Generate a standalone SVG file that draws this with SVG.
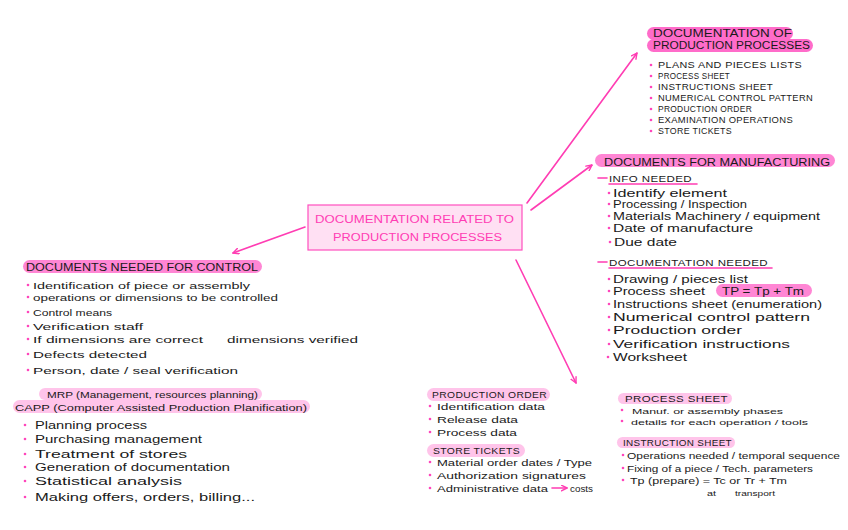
<svg xmlns="http://www.w3.org/2000/svg" width="848" height="530" viewBox="0 0 848 530">
<defs>
<style>
.bg{fill:#ffffff}
.cap{font-family:"Liberation Sans",Arial,sans-serif;font-size:8.5px;fill:#1a1a1a;letter-spacing:0.3px}
.hd{font-family:"Liberation Sans",Arial,sans-serif;font-size:10px;fill:#1a1a1a}
.hw{font-family:"Liberation Sans",Arial,sans-serif;font-size:11px;fill:#1a1a1a}
.mf{font-family:"Liberation Sans",Arial,sans-serif;font-size:10px;fill:#1a1a1a}
.sm{font-family:"Liberation Sans",Arial,sans-serif;font-size:9.5px;fill:#1a1a1a}
.xs{font-family:"Liberation Sans",Arial,sans-serif;font-size:8px;fill:#1a1a1a}
.hl1{fill:#ff6cca}
.hl2{fill:#ff86d4}
.hl3{fill:#ffc4ea}
.dot{fill:#ff45bb}
.pk{stroke:#ff3db3;stroke-width:1.6;fill:none;stroke-linecap:round}
.ctr{font-family:"Liberation Sans",Arial,sans-serif;font-size:10px;fill:#ff3db3}
</style>
<marker id="ah" viewBox="0 0 10 10" refX="9" refY="5" markerWidth="7" markerHeight="7" orient="auto" markerUnits="userSpaceOnUse">
<path d="M1,1 L9,5 L1,9" fill="none" stroke="#ff3db3" stroke-width="2" stroke-linecap="round" stroke-linejoin="round"/>
</marker>
</defs>
<rect class="bg" x="0" y="0" width="848" height="530"/>

<g id="connectors">
<line class="pk" x1="527" y1="203" x2="637" y2="53" marker-end="url(#ah)"/>
<line class="pk" x1="531" y1="210" x2="592" y2="165" marker-end="url(#ah)"/>
<line class="pk" x1="305" y1="227" x2="233" y2="253" marker-end="url(#ah)"/>
<line class="pk" x1="516" y1="260" x2="576" y2="383" marker-end="url(#ah)"/>
</g>

<g id="center">
<rect x="308" y="205" width="214" height="45" fill="#ffe0f3" stroke="#ff4fbf" stroke-width="1.2"/>
<text class="ctr" x="315" y="223" textLength="199" lengthAdjust="spacingAndGlyphs">DOCUMENTATION RELATED TO</text>
<text class="ctr" x="333" y="241" textLength="169" lengthAdjust="spacingAndGlyphs">PRODUCTION PROCESSES</text>
</g>

<g id="doc-production-processes">
<rect class="hl1" x="647" y="27" width="146" height="13" rx="6.5"/>
<rect class="hl1" x="647" y="39" width="166" height="13" rx="6.5"/>
<text class="hd" x="653" y="37" textLength="139" lengthAdjust="spacingAndGlyphs">DOCUMENTATION OF</text>
<text class="hd" x="653" y="49" textLength="157" lengthAdjust="spacingAndGlyphs">PRODUCTION PROCESSES</text>
<circle class="dot" cx="651" cy="65" r="1.3"/>
<circle class="dot" cx="651" cy="76" r="1.3"/>
<circle class="dot" cx="651" cy="87" r="1.3"/>
<circle class="dot" cx="651" cy="98" r="1.3"/>
<circle class="dot" cx="651" cy="109" r="1.3"/>
<circle class="dot" cx="651" cy="120" r="1.3"/>
<circle class="dot" cx="651" cy="131" r="1.3"/>
<text class="cap" x="658" y="68" textLength="144" lengthAdjust="spacingAndGlyphs">PLANS AND PIECES LISTS</text>
<text class="cap" x="658" y="79" textLength="72" lengthAdjust="spacingAndGlyphs">PROCESS SHEET</text>
<text class="cap" x="658" y="90" textLength="115" lengthAdjust="spacingAndGlyphs">INSTRUCTIONS SHEET</text>
<text class="cap" x="658" y="101" textLength="155" lengthAdjust="spacingAndGlyphs">NUMERICAL CONTROL PATTERN</text>
<text class="cap" x="658" y="112" textLength="94" lengthAdjust="spacingAndGlyphs">PRODUCTION ORDER</text>
<text class="cap" x="658" y="123" textLength="135" lengthAdjust="spacingAndGlyphs">EXAMINATION OPERATIONS</text>
<text class="cap" x="658" y="134" textLength="74" lengthAdjust="spacingAndGlyphs">STORE TICKETS</text>
</g>

<g id="docs-manufacturing">
<rect class="hl2" x="595" y="154" width="240" height="13" rx="6.5"/>
<text class="hd" x="604" y="165.5" textLength="226" lengthAdjust="spacingAndGlyphs">DOCUMENTS FOR MANUFACTURING</text>
<line class="pk" x1="598" y1="178" x2="607" y2="178"/>
<text class="cap" x="609" y="181.5" textLength="83" lengthAdjust="spacingAndGlyphs">INFO NEEDED</text>
<line class="pk" x1="609" y1="184" x2="697" y2="184" stroke-width="1.3"/>
<circle class="dot" cx="609" cy="193" r="1.3"/>
<circle class="dot" cx="609" cy="204" r="1.3"/>
<circle class="dot" cx="609" cy="216" r="1.3"/>
<circle class="dot" cx="609" cy="228" r="1.3"/>
<circle class="dot" cx="610" cy="242" r="1.3"/>
<text class="mf" x="613" y="197" textLength="114" lengthAdjust="spacingAndGlyphs">Identify element</text>
<text class="mf" x="613" y="208" textLength="134" lengthAdjust="spacingAndGlyphs">Processing / Inspection</text>
<text class="mf" x="613" y="220" textLength="207" lengthAdjust="spacingAndGlyphs">Materials Machinery / equipment</text>
<text class="mf" x="613" y="232" textLength="140" lengthAdjust="spacingAndGlyphs">Date of manufacture</text>
<text class="mf" x="614" y="246" textLength="63" lengthAdjust="spacingAndGlyphs">Due date</text>

<line class="pk" x1="598" y1="262" x2="607" y2="262"/>
<text class="cap" x="609" y="265.5" textLength="159" lengthAdjust="spacingAndGlyphs">DOCUMENTATION NEEDED</text>
<line class="pk" x1="609" y1="268" x2="772" y2="268" stroke-width="1.3"/>
<rect class="hl2" x="716" y="284" width="96" height="13" rx="6.5"/>
<text class="hd" x="722" y="294.5" textLength="82" lengthAdjust="spacingAndGlyphs">TP = Tp + Tm</text>
<circle class="dot" cx="609" cy="279" r="1.3"/>
<circle class="dot" cx="609" cy="291" r="1.3"/>
<circle class="dot" cx="609" cy="304" r="1.3"/>
<circle class="dot" cx="609" cy="317" r="1.3"/>
<circle class="dot" cx="609" cy="330" r="1.3"/>
<circle class="dot" cx="609" cy="344" r="1.3"/>
<circle class="dot" cx="608" cy="357" r="1.3"/>
<text class="mf" x="613" y="283" textLength="135" lengthAdjust="spacingAndGlyphs">Drawing / pieces list</text>
<text class="mf" x="613" y="295" textLength="92" lengthAdjust="spacingAndGlyphs">Process sheet</text>
<text class="mf" x="613" y="308" textLength="209" lengthAdjust="spacingAndGlyphs">Instructions sheet (enumeration)</text>
<text class="mf" x="613" y="321" textLength="197" lengthAdjust="spacingAndGlyphs">Numerical control pattern</text>
<text class="mf" x="613" y="334" textLength="129" lengthAdjust="spacingAndGlyphs">Production order</text>
<text class="mf" x="613" y="348" textLength="177" lengthAdjust="spacingAndGlyphs">Verification instructions</text>
<text class="mf" x="613" y="361" textLength="74" lengthAdjust="spacingAndGlyphs">Worksheet</text>
</g>

<g id="docs-control">
<rect class="hl2" x="23" y="260" width="239" height="13" rx="6.5"/>
<text class="hd" x="26" y="271" textLength="232" lengthAdjust="spacingAndGlyphs">DOCUMENTS NEEDED FOR CONTROL</text>
<circle class="dot" cx="28" cy="285" r="1.3"/>
<circle class="dot" cx="28" cy="297" r="1.3"/>
<circle class="dot" cx="28" cy="312" r="1.3"/>
<circle class="dot" cx="28" cy="326" r="1.3"/>
<circle class="dot" cx="28" cy="339" r="1.3"/>
<circle class="dot" cx="28" cy="354" r="1.3"/>
<circle class="dot" cx="28" cy="370" r="1.3"/>
<text class="sm" x="33" y="289" textLength="217" lengthAdjust="spacingAndGlyphs">Identification of piece or assembly</text>
<text class="sm" x="33" y="301" textLength="245" lengthAdjust="spacingAndGlyphs">operations or dimensions to be controlled</text>
<text class="sm" x="33" y="316" textLength="79" lengthAdjust="spacingAndGlyphs">Control means</text>
<text class="sm" x="33" y="330" textLength="110" lengthAdjust="spacingAndGlyphs">Verification staff</text>
<text class="sm" x="33" y="343" textLength="170" lengthAdjust="spacingAndGlyphs">If dimensions are correct</text>
<text class="sm" x="227" y="343" textLength="131" lengthAdjust="spacingAndGlyphs">dimensions verified</text>
<text class="sm" x="33" y="358" textLength="114" lengthAdjust="spacingAndGlyphs">Defects detected</text>
<text class="sm" x="33" y="374" textLength="205" lengthAdjust="spacingAndGlyphs">Person, date / seal verification</text>
</g>

<g id="mrp-capp">
<rect class="hl3" x="39" y="388" width="223" height="12" rx="6"/>
<rect class="hl3" x="13" y="400" width="297" height="13" rx="6.5"/>
<text class="sm" x="47" y="397.5" textLength="211" lengthAdjust="spacingAndGlyphs">MRP (Management, resources planning)</text>
<text class="sm" x="15" y="410.5" textLength="292" lengthAdjust="spacingAndGlyphs">CAPP (Computer Assisted Production Planification)</text>
<circle class="dot" cx="25" cy="425" r="1.3"/>
<circle class="dot" cx="25" cy="439" r="1.3"/>
<circle class="dot" cx="25" cy="454" r="1.3"/>
<circle class="dot" cx="25" cy="467" r="1.3"/>
<circle class="dot" cx="25" cy="481" r="1.3"/>
<circle class="dot" cx="25" cy="497" r="1.3"/>
<text class="hw" x="35" y="429" textLength="112" lengthAdjust="spacingAndGlyphs">Planning process</text>
<text class="hw" x="35" y="443" textLength="167" lengthAdjust="spacingAndGlyphs">Purchasing management</text>
<text class="hw" x="35" y="458" textLength="152" lengthAdjust="spacingAndGlyphs">Treatment of stores</text>
<text class="hw" x="35" y="471" textLength="195" lengthAdjust="spacingAndGlyphs">Generation of documentation</text>
<text class="hw" x="35" y="485" textLength="147" lengthAdjust="spacingAndGlyphs">Statistical analysis</text>
<text class="hw" x="35" y="501" textLength="220" lengthAdjust="spacingAndGlyphs">Making offers, orders, billing...</text>
</g>

<g id="production-order">
<rect class="hl3" x="427" y="388" width="123" height="13" rx="6.5"/>
<text class="cap" x="432" y="398" textLength="115" lengthAdjust="spacingAndGlyphs">PRODUCTION ORDER</text>
<circle class="dot" cx="430" cy="406" r="1.3"/>
<circle class="dot" cx="430" cy="419" r="1.3"/>
<circle class="dot" cx="430" cy="432" r="1.3"/>
<text class="sm" x="437" y="410" textLength="108" lengthAdjust="spacingAndGlyphs">Identification data</text>
<text class="sm" x="437" y="423" textLength="81" lengthAdjust="spacingAndGlyphs">Release data</text>
<text class="sm" x="437" y="436" textLength="80" lengthAdjust="spacingAndGlyphs">Process data</text>
</g>

<g id="store-tickets">
<rect class="hl3" x="427" y="444" width="98" height="13" rx="6.5"/>
<text class="cap" x="433" y="454" textLength="87" lengthAdjust="spacingAndGlyphs">STORE TICKETS</text>
<circle class="dot" cx="430" cy="462" r="1.3"/>
<circle class="dot" cx="430" cy="475" r="1.3"/>
<circle class="dot" cx="430" cy="488" r="1.3"/>
<text class="sm" x="437" y="466" textLength="155" lengthAdjust="spacingAndGlyphs">Material order dates / Type</text>
<text class="sm" x="437" y="479" textLength="149" lengthAdjust="spacingAndGlyphs">Authorization signatures</text>
<text class="sm" x="437" y="492" textLength="111" lengthAdjust="spacingAndGlyphs">Administrative data</text>
<line class="pk" x1="552" y1="488" x2="567" y2="488" marker-end="url(#ah)" stroke-width="1.4"/>
<text class="sm" x="570" y="492" textLength="23" lengthAdjust="spacingAndGlyphs">costs</text>
</g>

<g id="process-sheet">
<rect class="hl3" x="618" y="393" width="114" height="11" rx="5.5"/>
<text class="cap" x="625" y="401.5" textLength="103" lengthAdjust="spacingAndGlyphs">PROCESS SHEET</text>
<circle class="dot" cx="622" cy="410" r="1.3"/>
<circle class="dot" cx="622" cy="421" r="1.3"/>
<text class="xs" x="632" y="414" textLength="151" lengthAdjust="spacingAndGlyphs">Manuf. or assembly phases</text>
<text class="xs" x="631" y="424.5" textLength="177" lengthAdjust="spacingAndGlyphs">details for each operation / tools</text>
</g>

<g id="instruction-sheet">
<rect class="hl3" x="617" y="437" width="118" height="11" rx="5.5"/>
<text class="cap" x="623" y="445.5" textLength="109" lengthAdjust="spacingAndGlyphs">INSTRUCTION SHEET</text>
<circle class="dot" cx="623" cy="455" r="1.3"/>
<circle class="dot" cx="623" cy="468" r="1.3"/>
<circle class="dot" cx="623" cy="480" r="1.3"/>
<text class="sm" x="627" y="458.5" textLength="213" lengthAdjust="spacingAndGlyphs">Operations needed / temporal sequence</text>
<text class="sm" x="627" y="471.5" textLength="186" lengthAdjust="spacingAndGlyphs">Fixing of a piece / Tech. parameters</text>
<text class="sm" x="630" y="483.5" textLength="157" lengthAdjust="spacingAndGlyphs">Tp (prepare) = Tc or Tr + Tm</text>
<text class="xs" x="707" y="495.5" font-size="7.5" textLength="9" lengthAdjust="spacingAndGlyphs">at</text>
<text class="xs" x="735" y="495.5" font-size="7.5" textLength="40" lengthAdjust="spacingAndGlyphs">transport</text>
</g>
</svg>
